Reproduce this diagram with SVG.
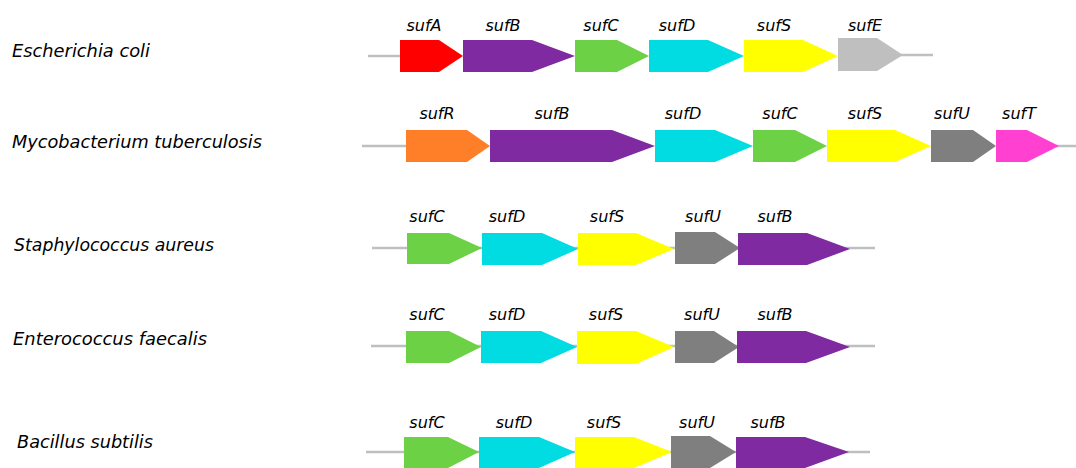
<svg xmlns="http://www.w3.org/2000/svg" width="1076" height="468" viewBox="0 0 1076 468">
<style>
.sp{font-family:"Comic Sans MS","DejaVu Sans",sans-serif;font-style:italic;font-size:17px;fill:#000}
.gl{font-family:"Comic Sans MS","DejaVu Sans",sans-serif;font-style:italic;font-size:16px;fill:#000;text-anchor:middle}
.bb{stroke:#BFBFBF;stroke-width:2.5;fill:none}
.A{fill:#FF0000}.B{fill:#7F2AA0}.C{fill:#6CD144}.D{fill:#00DCE2}.S{fill:#FFFF00}.E{fill:#BFBFBF}.R{fill:#FE7F27}.U{fill:#7F7F7F}.T{fill:#FF40D0}
</style>
<rect width="1076" height="468" fill="#fff"/>
<g id="connectors">
<line class="bb" x1="368" y1="56" x2="402" y2="56"/>
<line class="bb" x1="900" y1="55" x2="933" y2="55"/>
<line class="bb" x1="362" y1="146" x2="408" y2="146"/>
<line class="bb" x1="1056" y1="146" x2="1076" y2="146"/>
<line class="bb" x1="372" y1="248" x2="875" y2="248"/>
<line class="bb" x1="371" y1="346" x2="875" y2="346"/>
<line class="bb" x1="366" y1="452" x2="870" y2="452"/>
</g>
<g id="species">
<text class="sp" x="12" y="57" textLength="138" lengthAdjust="spacingAndGlyphs">Escherichia coli</text>
<text class="sp" x="12" y="148" textLength="250" lengthAdjust="spacingAndGlyphs">Mycobacterium tuberculosis</text>
<text class="sp" x="14" y="251" textLength="200" lengthAdjust="spacingAndGlyphs">Staphylococcus aureus</text>
<text class="sp" x="13" y="345" textLength="194" lengthAdjust="spacingAndGlyphs">Enterococcus faecalis</text>
<text class="sp" x="17" y="448" textLength="136" lengthAdjust="spacingAndGlyphs">Bacillus subtilis</text>
</g>
<g id="ecoli">
<g id="ec-sufA"><polygon class="A" points="400,40 439,40 463,56 439,72 400,72"/><text class="gl" x="424" y="31">sufA</text></g>
<g id="ec-sufB"><polygon class="B" points="463,40 532,40 575,56 532,72 463,72"/><text class="gl" x="503" y="31">sufB</text></g>
<g id="ec-sufC"><polygon class="C" points="575,40 617,40 649,56 617,72 575,72"/><text class="gl" x="601" y="31">sufC</text></g>
<g id="ec-sufD"><polygon class="D" points="649,40 708,40 744,56 708,72 649,72"/><text class="gl" x="677" y="31">sufD</text></g>
<g id="ec-sufS"><polygon class="S" points="744,40 803,40 838,56 803,72 744,72"/><text class="gl" x="774" y="31">sufS</text></g>
<g id="ec-sufE"><polygon class="E" points="838,38 877,38 903,55 877,71 838,71"/><text class="gl" x="865" y="31">sufE</text></g>
</g>
<g id="mtb">
<g id="mt-sufR"><polygon class="R" points="406,130 467,130 490,146 467,162 406,162"/><text class="gl" x="437" y="119">sufR</text></g>
<g id="mt-sufB"><polygon class="B" points="490,130 612,130 655,146 612,162 490,162"/><text class="gl" x="552" y="119">sufB</text></g>
<g id="mt-sufD"><polygon class="D" points="655,130 715,130 753,146 715,162 655,162"/><text class="gl" x="683" y="119">sufD</text></g>
<g id="mt-sufC"><polygon class="C" points="753,130 795,130 827,146 795,162 753,162"/><text class="gl" x="780" y="119">sufC</text></g>
<g id="mt-sufS"><polygon class="S" points="827,130 895,130 931,146 895,162 827,162"/><text class="gl" x="865" y="119">sufS</text></g>
<g id="mt-sufU"><polygon class="U" points="931,130 973,130 996,146 973,162 931,162"/><text class="gl" x="952" y="119">sufU</text></g>
<g id="mt-sufT"><polygon class="T" points="996,130 1027,130 1059,146 1027,162 996,162"/><text class="gl" x="1019" y="119">sufT</text></g>
</g>
<g id="saureus">
<g id="sa-sufC"><polygon class="C" points="407,233 449,233 482,248 449,264 407,264"/><text class="gl" x="427" y="222">sufC</text></g>
<g id="sa-sufD"><polygon class="D" points="482,233 542,233 578,249 542,265 482,265"/><text class="gl" x="507" y="222">sufD</text></g>
<g id="sa-sufS"><polygon class="S" points="578,233 636,233 674,249 636,265 578,265"/><text class="gl" x="607" y="222">sufS</text></g>
<g id="sa-sufU"><polygon class="U" points="675,232 715,232 740,248 715,264 675,264"/><text class="gl" x="703" y="222">sufU</text></g>
<g id="sa-sufB"><polygon class="B" points="738,233 807,233 850,249 807,265 738,265"/><text class="gl" x="775" y="222">sufB</text></g>
</g>
<g id="efaecalis">
<g id="ef-sufC"><polygon class="C" points="406,331 449,331 481,347 449,363 406,363"/><text class="gl" x="427" y="320">sufC</text></g>
<g id="ef-sufD"><polygon class="D" points="481,331 541,331 577,347 541,363 481,363"/><text class="gl" x="507" y="320">sufD</text></g>
<g id="ef-sufS"><polygon class="S" points="577,331 636,331 674,347 636,364 577,364"/><text class="gl" x="606" y="320">sufS</text></g>
<g id="ef-sufU"><polygon class="U" points="675,331 714,331 739,347 714,363 675,363"/><text class="gl" x="702" y="320">sufU</text></g>
<g id="ef-sufB"><polygon class="B" points="737,331 806,331 850,347 806,363 737,363"/><text class="gl" x="775" y="320">sufB</text></g>
</g>
<g id="bsubtilis">
<g id="bs-sufC"><polygon class="C" points="404,437 448,437 479,452 448,468 404,468"/><text class="gl" x="427" y="428">sufC</text></g>
<g id="bs-sufD"><polygon class="D" points="479,437 539,437 575,452 539,468 479,468"/><text class="gl" x="514" y="428">sufD</text></g>
<g id="bs-sufS"><polygon class="S" points="575,437 634,437 672,452 634,468 575,468"/><text class="gl" x="604" y="428">sufS</text></g>
<g id="bs-sufU"><polygon class="U" points="671,436 710,436 736,452 710,468 671,468"/><text class="gl" x="697" y="428">sufU</text></g>
<g id="bs-sufB"><polygon class="B" points="736,437 805,437 849,452 805,468 736,468"/><text class="gl" x="768" y="428">sufB</text></g>
</g>
</svg>
